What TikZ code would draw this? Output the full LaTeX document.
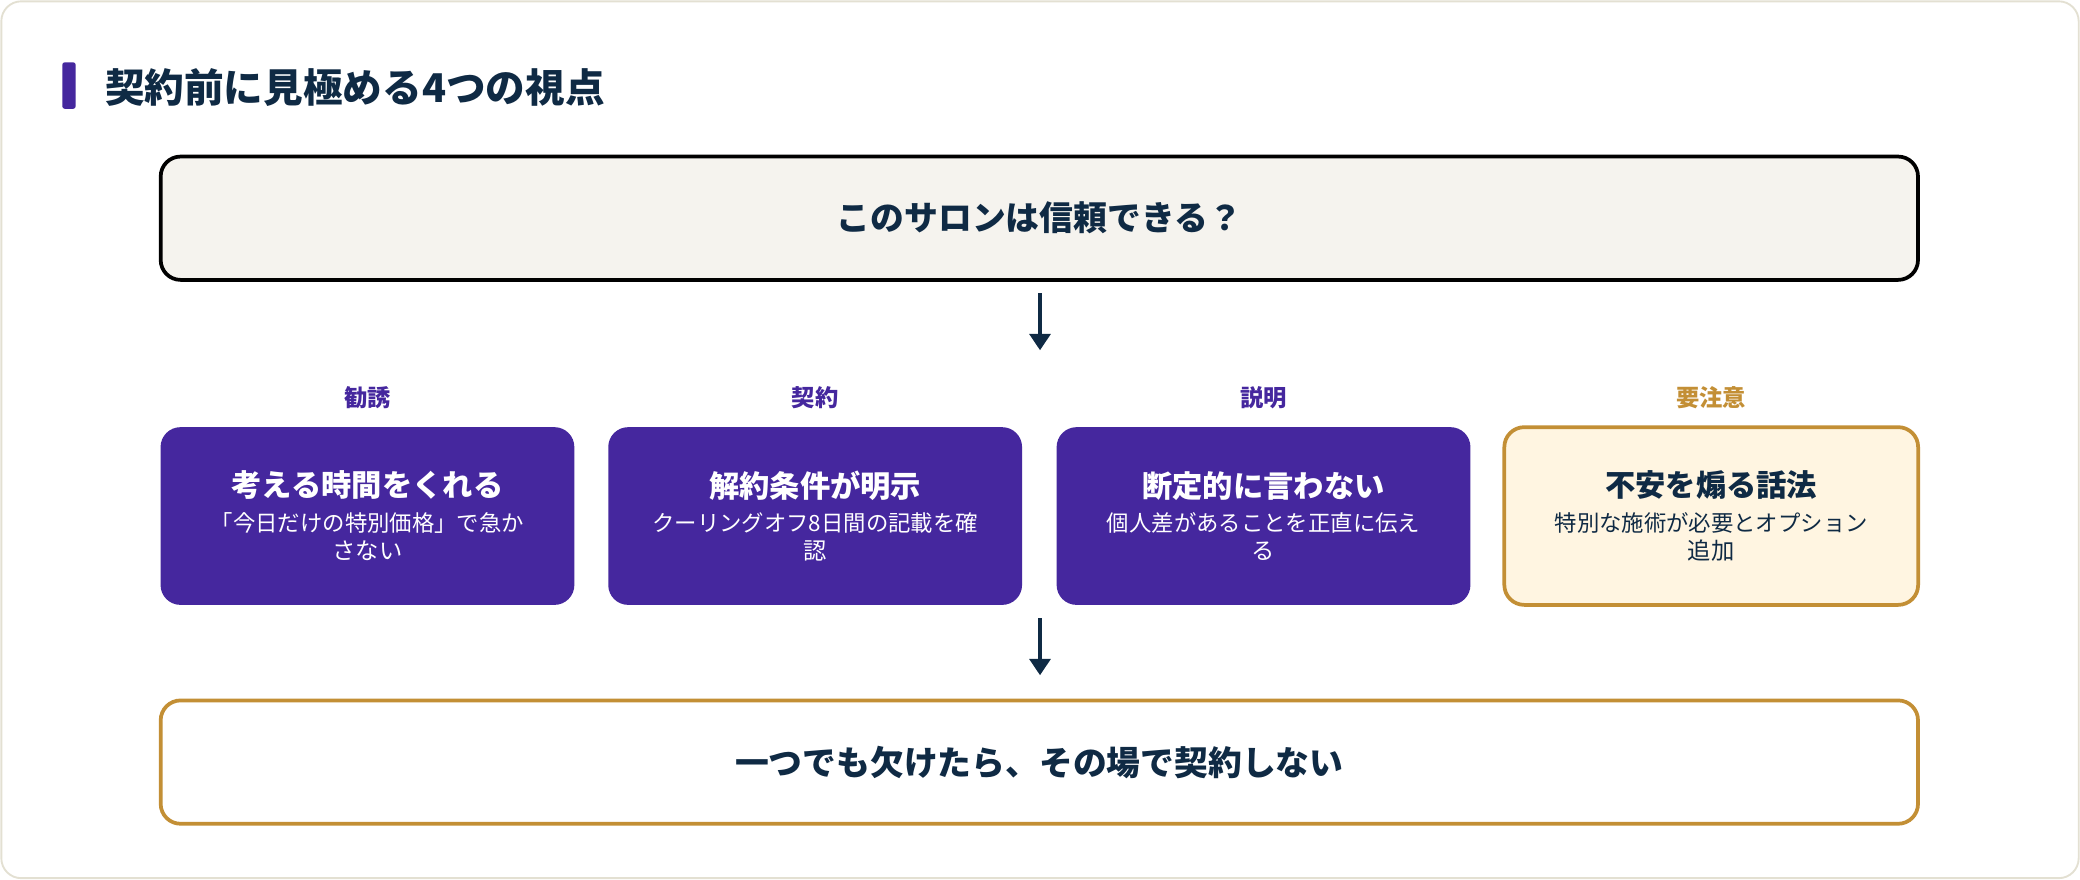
\documentclass[tikz,border=0pt]{standalone}
\usepackage{fontspec}
\setmainfont{Noto Sans CJK JP}
\usetikzlibrary{arrows.meta,positioning}
\definecolor{navy}{HTML}{0F2A44}
\definecolor{violet}{HTML}{45279E}
\definecolor{gold}{HTML}{C38F35}
\definecolor{paper}{HTML}{F5F3EE}
\definecolor{cream}{HTML}{FFF5E1}
\definecolor{frame}{HTML}{E3E0D2}
\tikzset{
  bigbox/.style={draw,line width=1.6pt,rounded corners=0.3cm,minimum width=26.5cm,minimum height=1.86cm,text=navy,font=\bfseries\fontsize{14.5}{16}\selectfont},
  card/.style={fill=violet,rounded corners=0.3cm,minimum width=6.24cm,minimum height=2.68cm,text=white,align=center},
  tag/.style={font=\bfseries\fontsize{10}{12}\selectfont},
  flow/.style={navy,line width=1.4pt,-{Triangle[length=7pt,width=9pt]}}
}
\newcommand{\cardtext}[3]{\bfseries\fontsize{13}{15}\selectfont #1\\[3pt]\mdseries\fontsize{9.6}{15.5}\selectfont #2\\#3}
\begin{document}
\begin{tikzpicture}[x=0.02cm,y=-0.02cm]
\useasboundingbox (0,0) rectangle (1568,663);
\draw[frame,fill=white,rounded corners=0.3cm,line width=0.8pt] (1,1) rectangle (1567,662);
% title
\fill[violet,rounded corners=1pt] (47,47) rectangle (57,82);
\node[anchor=west,text=navy,font=\bfseries\fontsize{17}{20}\selectfont] (title) at (73,66) {契約前に見極める4つの視点};
% question
\node[bigbox,fill=paper] (ask) at (783.5,164.5) {このサロンは信頼できる？};
% four viewpoints
\node[card] (c1) at (277,389) {\cardtext{考える時間をくれる}{「今日だけの特別価格」で急か}{さない}};
\node[card] (c2) at (614.5,389) {\cardtext{解約条件が明示}{クーリングオフ8日間の記載を確}{認}};
\node[card] (c3) at (952.5,389) {\cardtext{断定的に言わない}{個人差があることを正直に伝え}{る}};
\node[card,fill=cream,draw=gold,line width=1.6pt,text=navy] (c4) at (1290,389) {\cardtext{不安を煽る話法}{特別な施術が必要とオプション}{追加}};
\node[tag,text=violet] (t1) at (277,300) {勧誘};
\node[tag,text=violet] (t2) at (614.5,300) {契約};
\node[tag,text=violet] (t3) at (952.5,300) {説明};
\node[tag,text=gold] (t4) at (1290,300) {要注意};
% decision
\node[bigbox,fill=white,draw=gold] (stop) at (783.5,574.5) {一つでも欠けたら、その場で契約しない};
% arrows
\coordinate (a1) at (784,221);
\coordinate (a2) at (784,264);
\coordinate (b1) at (784,466);
\coordinate (b2) at (784,509);
\draw[flow] (a1) -- (a2);
\draw[flow] (b1) -- (b2);
\end{tikzpicture}
\end{document}
